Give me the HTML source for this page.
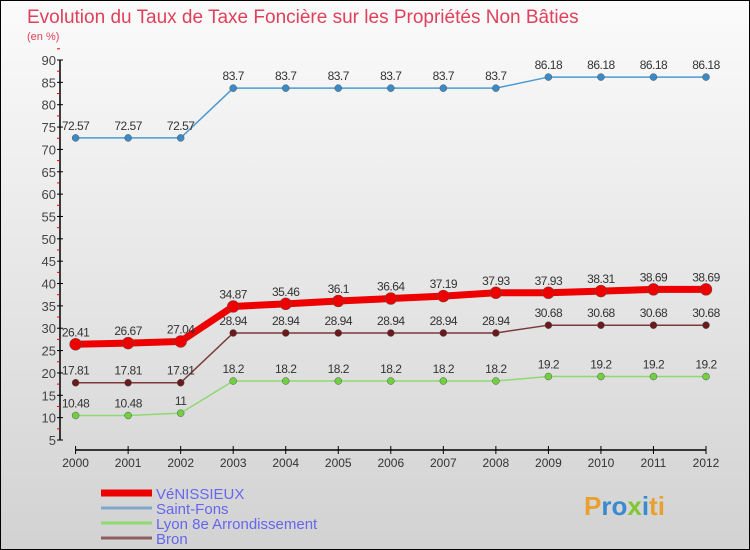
<!DOCTYPE html>
<html><head><meta charset="utf-8"><style>
html,body{margin:0;padding:0}
body{width:750px;height:550px;overflow:hidden;font-family:"Liberation Sans",sans-serif}
#wrap{position:relative;width:748px;height:548px;border:1px solid #000;background:linear-gradient(#fbfbfb,#d2d2d2)}
</style></head><body>
<div id="wrap">
<svg id="c" width="748" height="548" style="position:absolute;left:0;top:0"></svg>
</div>
<script>
const years=["2000","2001","2002","2003","2004","2005","2006","2007","2008","2009","2010","2011","2012"];
const venissieux=[26.41,26.67,27.04,34.87,35.46,36.1,36.64,37.19,37.93,37.93,38.31,38.69,38.69];
const saintFons=[72.57,72.57,72.57,83.7,83.7,83.7,83.7,83.7,83.7,86.18,86.18,86.18,86.18];
const lyon8=[10.48,10.48,11,18.2,18.2,18.2,18.2,18.2,18.2,19.2,19.2,19.2,19.2];
const bron=[17.81,17.81,17.81,28.94,28.94,28.94,28.94,28.94,28.94,30.68,30.68,30.68,30.68];
const yTicks=[5,10,15,20,25,30,35,40,45,50,55,60,65,70,75,80,85,90];
const legendNames=["VéNISSIEUX","Saint-Fons","Lyon 8e  Arrondissement","Bron"];

const NS="http://www.w3.org/2000/svg";
const svg=document.getElementById('c');
function el(t,a,p){const e=document.createElementNS(NS,t);for(const k in a)e.setAttribute(k,a[k]);(p||svg).appendChild(e);return e;}
const X=i=>74.6+i*(705-74.6)/12;
const Y=v=>59+(90-v)*(439-59)/85;

let t=el('text',{x:26,y:22,'font-size':19,fill:'#e0405a'});t.textContent="Evolution du Taux de Taxe Foncière sur les Propriétés Non Bâties";


t=el('text',{x:26,y:39,'font-size':11,fill:'#e0405a'});t.textContent="(en %)";



// y axis
let ya=el('line',{x1:59,y1:59,x2:59,y2:439,stroke:'#000','stroke-width':1.5});


yTicks.forEach(v=>{
  el('line',{x1:56,x2:62,y1:Y(v),y2:Y(v),stroke:'#000'});
  el('line',{x1:56,x2:59,y1:Y(v+2.5),y2:Y(v+2.5),stroke:'#e00'});
  const l=el('text',{x:55,y:Y(v)+5,'font-size':13,fill:'#444','text-anchor':'end'});l.textContent=v;
  
  
});
// x axis
let xa=el('line',{x1:X(0),y1:449,x2:X(12),y2:449,stroke:'#000','stroke-width':1.5});


years.forEach((y,i)=>{
  el('line',{x1:X(i),x2:X(i),y1:445,y2:453,stroke:'#000'});
  const l=el('text',{x:X(i),y:466,'font-size':12,fill:'#333','text-anchor':'middle'});l.textContent=y;
  
  
});

function series(data,color,w,r,dot,name){
  const g=el('g',{});
  
  
  el('polyline',{points:data.map((v,i)=>X(i)+','+Y(v)).join(' '),fill:'none',stroke:color,'stroke-width':w},g);
  data.forEach((v,i)=>{
    const c=el('circle',{cx:X(i),cy:Y(v),r:r,fill:dot,stroke:'#555','stroke-width':0.5},g);
    
    
    const l=el('text',{x:X(i),y:Y(v)-8,'font-size':12,fill:'#333','text-anchor':'middle','letter-spacing':'-0.5'},g);
    l.textContent=v;
  });
}
series(saintFons,'#4a9ad0',1.5,3.5,'#3a8ac8','saint-fons-series');
series(bron,'#7a3a3a',1.5,3.5,'#6a1a1a','bron-series');
series(lyon8,'#90d870',1.5,3.5,'#70d040','lyon8-series');
series(venissieux,'#ee0000',7,6,'#ee0000','venissieux-series');

const lc=['#ee0000','#80a8c8','#90d870','#906060'],lw=[7,3,3,3];
legendNames.forEach((n,i)=>{
  const y=492+i*15;
  const g=el('g',{});
  
  
  el('line',{x1:100,x2:151,y1:y,y2:y,stroke:lc[i],'stroke-width':lw[i]},g);
  const l=el('text',{x:155,y:y+6,'font-size':15,fill:'#6666ee'},g);l.textContent=n;
});
const logo=el('text',{x:583,y:514,'font-size':26,'font-weight':'bold',fill:'#3a8ad0'});
logo.innerHTML='<tspan fill="#e8a030">P</tspan>ro<tspan fill="#80c830">x</tspan><tspan fill="#3a8ad0">i</tspan><tspan fill="#e8a030">ti</tspan>';


</script>
</body></html>
